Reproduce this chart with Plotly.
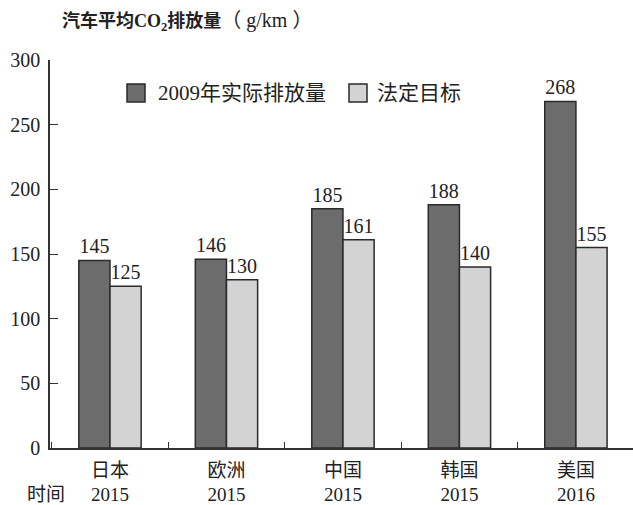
import plotly.graph_objects as go

regions = ["日本", "欧洲", "中国", "韩国", "美国"]
years = ["2015", "2015", "2015", "2015", "2016"]
actual_2009 = [145, 146, 185, 188, 268]
target = [125, 130, 161, 140, 155]
y_ticks = [0, 50, 100, 150, 200, 250, 300]
series_names = ["2009年实际排放量", "法定目标"]
series_colors = ["#6c6c6c", "#d3d3d3"]

FONT = "Liberation Serif, Noto Sans CJK SC, serif"
labels = [f"{r}<br>{y}" for r, y in zip(regions, years)]

W, H = 633, 505
L, R, T, B = 50, 0, 60, 57
PW, PH = W - L - R, H - T - B


def px(x):
    return (x - L) / PW


def py(y):
    return 1 - (y - T) / PH


fig = go.Figure()
for name, vals, col in zip(series_names, [actual_2009, target], series_colors):
    fig.add_trace(go.Bar(
        x=labels, y=vals, name=name, showlegend=False,
        marker=dict(color=col, line=dict(color="#2a2a2a", width=1.5)),
        text=[str(v) for v in vals], textposition="outside",
        textfont=dict(size=20, color="#222", family=FONT), cliponaxis=False,
    ))

fig.update_layout(
    width=W, height=H,
    margin=dict(l=L, r=R, t=T, b=B),
    paper_bgcolor="white", plot_bgcolor="white",
    font=dict(family=FONT, size=19, color="#222"),
    barmode="group", bargap=0.465, bargroupgap=0,
    showlegend=False,
)
fig.update_xaxes(
    type="category", range=[-0.515, 4.49],
    showline=True, linecolor="#333", linewidth=1.5,
    ticks="inside", ticklen=6, tickcolor="#333", tickson="boundaries",
    showgrid=False, tickfont=dict(size=19, family=FONT), ticklabelstandoff=4,
)
fig.update_yaxes(
    range=[0, 300], tickvals=y_ticks,
    showline=True, linecolor="#333", linewidth=1.5,
    ticks="inside", ticklen=8, tickcolor="#333",
    showgrid=False, zeroline=False, tickfont=dict(size=20, family=FONT),
    ticklabelstandoff=4,
)

# manual legend
leg = [(127, 156, 0), (349, 375, 1)]
for sx, tx, i in leg:
    fig.add_shape(type="rect", xref="paper", yref="paper",
                  x0=px(sx), x1=px(sx + 18), y0=py(102), y1=py(84),
                  fillcolor=series_colors[i], line=dict(color="#2a2a2a", width=1.5))
    fig.add_annotation(text=series_names[i], xref="paper", yref="paper",
                       x=px(tx), y=py(93), xanchor="left", yanchor="middle",
                       showarrow=False, font=dict(size=21, family=FONT))

fig.add_annotation(
    text="<b>汽车平均CO<sub>2</sub>排放量</b><span style='font-size:20px'>（ g/km ）</span>",
    xref="paper", yref="paper",
    x=px(60), y=py(22), xanchor="left", yanchor="middle",
    showarrow=False, font=dict(size=18, family=FONT))
fig.add_annotation(text="时间", xref="paper", yref="paper",
                   x=px(25), y=py(494), xanchor="left", yanchor="middle",
                   showarrow=False, font=dict(size=19, family=FONT))
fig.write_html("out.html")
